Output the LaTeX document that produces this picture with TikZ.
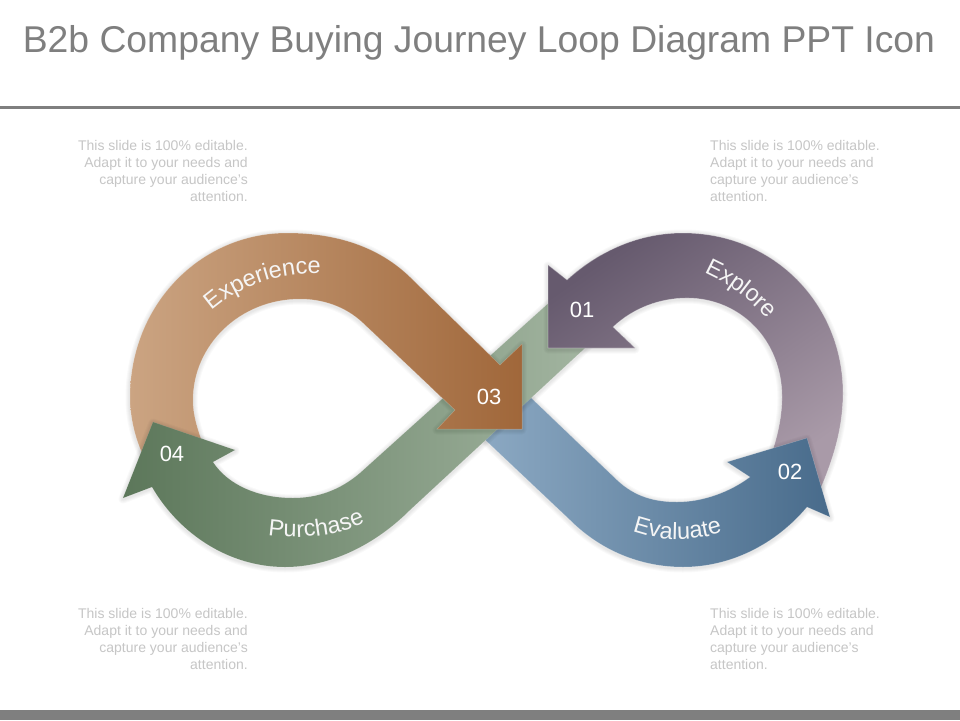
\documentclass[tikz,border=0pt]{standalone}
\usepackage{fontspec}
\setmainfont{Liberation Sans}
\usetikzlibrary{decorations.text}
\definecolor{rulegray}{HTML}{7F7F7F}
\definecolor{bodygray}{HTML}{C6C6C6}
\def\brownpath{(148,465) .. controls (134,440) and (130,415) .. (130,397) .. controls (130,305) and (200,233) .. (287,233) .. controls (335,233) and (378,246) .. (410,277) -- (500,365) -- (522,344) -- (522,429) -- (437,429) -- (455,410) -- (363,323) .. controls (345,306) and (322,299) .. (300,299) .. controls (240,299) and (193,345) .. (193,400) .. controls (193,415) and (197,428) .. (205,450) -- cycle}
\def\greenpath{(562,291) -- (598,336) -- (410,510) .. controls (375,545) and (330,567) .. (285,567) .. controls (230,567) and (180,535) .. (152,487) -- (123,498) -- (153,422) -- (235,450) -- (213,462) .. controls (228,485) and (258,498) .. (293,498) .. controls (318,498) and (340,490) .. (360,473) -- cycle}
\def\bluepath{(525,392) -- (617,480) .. controls (635,497) and (655,502) .. (677,502) .. controls (703,502) and (730,492) .. (750,477) -- (727,462) -- (807,438) -- (830,517) -- (807,507) .. controls (775,545) and (730,567) .. (683,567) .. controls (640,567) and (600,550) .. (570,520) -- (480,435) -- cycle}
\def\purplepath{(548,265) -- (567,280) .. controls (600,250) and (640,233) .. (683,233) .. controls (775,233) and (843,305) .. (843,393) .. controls (843,425) and (835,455) .. (820,490) -- (772,452) .. controls (778,435) and (782,415) .. (782,397) .. controls (782,340) and (740,298) .. (687,298) .. controls (660,298) and (633,308) .. (613,327) -- (635,348) -- (548,348) -- cycle}
\tikzset{
  softshadow/.style={draw=black,draw opacity=.022,line join=round,fill=none},
  brownfill/.style={left color=brown1,right color=brown2,draw=white,draw opacity=.25,line width=.5pt},
  greenfill/.style={left color=green1,right color=green2,draw=white,draw opacity=.12,line width=.4pt},
  bluefill/.style={left color=blue1,right color=blue2,draw=white,draw opacity=.25,line width=.5pt},
  purplefill/.style={top color=purple1,bottom color=purple2,shading angle=35,draw=white,draw opacity=.35,line width=.6pt},
  numlabel/.style={text=white,font=\fontsize{22}{26}\selectfont,inner sep=0pt},
  bodytext/.style={text=bodygray,font=\fontsize{14}{16.8}\selectfont,inner sep=0pt,anchor=north west},
  bodyright/.style={bodytext,anchor=north east,align=right},
  bodyleft/.style={bodytext,anchor=north west,align=left},
  ribbontext/.style={decorate,decoration={text along path,text align=center,text={|\color{white!96!black}\fontsize{23.5}{28}\selectfont|#1}}},
}
\definecolor{brown1}{HTML}{CBA482}
\definecolor{brown2}{HTML}{A0673A}
\definecolor{green1}{HTML}{5C775A}
\definecolor{green2}{HTML}{A4B6A2}
\definecolor{blue1}{HTML}{8CA9C3}
\definecolor{blue2}{HTML}{486B8B}
\definecolor{purple1}{HTML}{665A6E}
\definecolor{purple2}{HTML}{A99AA8}
\newcommand{\softshadow}[1]{%
  \foreach \w in {9,7,5,3}{\path[softshadow,line width=\w pt,yshift=-1pt] #1;}%
}
\begin{document}
\begin{tikzpicture}[x=1pt,y=-1pt]
\useasboundingbox (0,0) rectangle (960,720);
\fill[white] (0,0) rectangle (960,720);
% title and rules
\node[text=rulegray,font=\fontsize{37.3}{43}\selectfont,inner sep=0pt] (title) at (479,43) {B2b Company Buying Journey Loop Diagram PPT Icon};
\fill[rulegray] (0,105.5) rectangle (960,109);
\fill[rulegray] (0,710) rectangle (960,720);
% body text
\node[bodyright] (tl) at (248,140.5) {This slide is 100\% editable.\\Adapt it to your needs and\\capture your audience's\\attention.};
\node[bodyleft] (tr) at (710,140.5) {This slide is 100\% editable.\\Adapt it to your needs and\\capture your audience's\\attention.};
\node[bodyright] (bl) at (248,608.5) {This slide is 100\% editable.\\Adapt it to your needs and\\capture your audience's\\attention.};
\node[bodyleft] (br) at (710,608.5) {This slide is 100\% editable.\\Adapt it to your needs and\\capture your audience's\\attention.};
% ribbons
\softshadow{\purplepath}
\path[purplefill] \purplepath;
\softshadow{\bluepath}
\path[bluefill] \bluepath;
\softshadow{\brownpath}
\path[brownfill] \brownpath;
\softshadow{\greenpath}
\path[greenfill] \greenpath;
% arrow heads lying above the green ribbon: their shadow falls on the green only
\begin{scope}
  \clip \greenpath;
  \clip (430,335) rectangle (530,440);
  \softshadow{\brownpath}
\end{scope}
\begin{scope}
  \clip (430,335) rectangle (530,440);
  \path[brownfill] \brownpath;
\end{scope}
\begin{scope}
  \clip \greenpath;
  \clip (535,255) rectangle (640,358);
  \softshadow{\purplepath}
\end{scope}
\begin{scope}
  \clip (535,255) rectangle (610,358) (610,328) rectangle (640,358);
  \path[purplefill] \purplepath;
\end{scope}
% labels
\path[ribbontext=Experience] (206,316) .. controls (235,288) and (277,270) .. (329,274);
\path[ribbontext=Explore] (698,270) .. controls (722,279) and (750,298) .. (772,324);
\path[ribbontext=Purchase] (258,533) .. controls (290,541) and (340,538) .. (374,518);
\path[ribbontext=Evaluate] (622,527) .. controls (655,543) and (700,543) .. (733,528);
\node[numlabel] (n1) at (582,310) {01};
\node[numlabel] (n2) at (790,472) {02};
\node[numlabel] (n3) at (489,397) {03};
\node[numlabel] (n4) at (172,454) {04};
\end{tikzpicture}
\end{document}
